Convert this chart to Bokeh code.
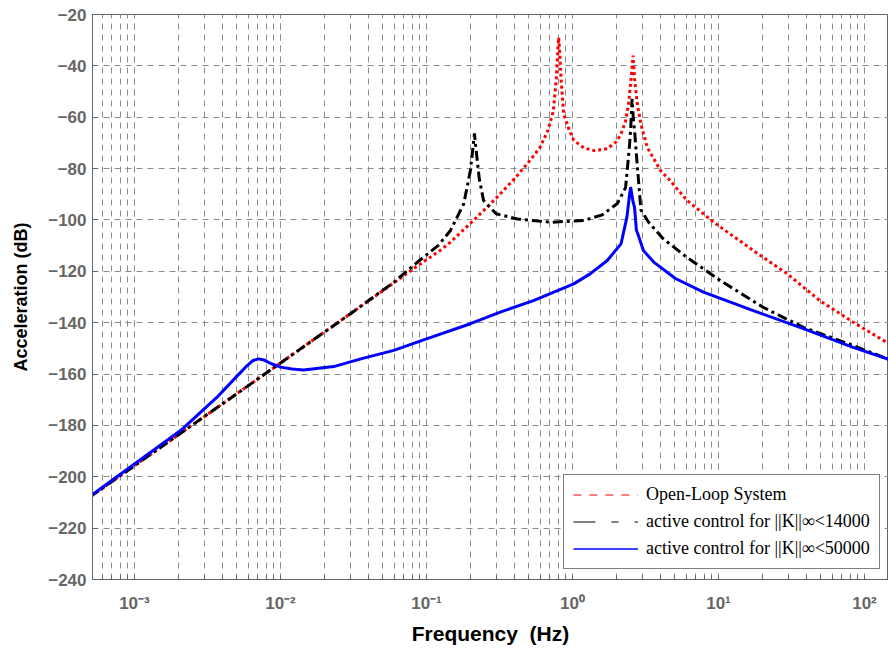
from bokeh.plotting import figure
from bokeh.models import FixedTicker, Legend, LegendItem, Range1d, CustomJSTickFormatter
from bokeh.embed import file_html
from bokeh.resources import INLINE

# ---------------- data ----------------
freq_open = [5.0e-4, 1e-3, 1e-2, 3e-2, 0.0863, 0.124, 0.146, 0.21, 0.30, 0.40, 0.50,
             0.60, 0.68, 0.74, 0.775, 0.795, 0.805, 0.815, 0.835, 0.87, 0.95, 1.02,
             1.2, 1.41, 1.73, 2.0, 2.15, 2.3, 2.42, 2.52, 2.6, 2.66, 2.78, 2.95, 3.25,
             4.0, 4.45, 6.1, 9.27, 17.3, 29.6, 49.4, 83.6, 150]
db_open = [-207.7, -195.7, -155.7, -136.6, -118.0, -111.9, -108.6, -100.2, -91.5, -84.0, -77.5,
           -71.7, -65.0, -57.4, -45.0, -33.0, -29.0, -33.0, -45.0, -58.7, -65.0, -69.0,
           -72.0, -73.0, -72.3, -69.5, -66.5, -62.0, -54.8, -45.0, -36.0, -45.0, -54.8, -63.0, -71.7,
           -80.7, -83.4, -92.4, -100.9, -111.9, -121.0, -131.4, -139.8, -148.5]

freq_k14 = [5.0e-4, 1e-3, 1e-2, 3e-2, 0.06, 0.0863, 0.12, 0.146, 0.18, 0.20, 0.208, 0.213,
            0.218, 0.23, 0.246, 0.30, 0.418, 0.71, 1.2, 1.6, 2.03, 2.31, 2.45, 2.5, 2.56,
            2.62, 2.66, 2.76, 2.94, 3.32, 4.18, 6.05, 10.3, 20.2, 38.1, 83.6, 150]
db_k14 = [-207.7, -195.7, -155.7, -136.6, -124.2, -116.5, -110.0, -104.1, -93.7, -80.7, -72.0, -66.3,
          -72.0, -84.0, -92.4, -97.6, -99.6, -100.9, -100.2, -98.0, -93.6, -87.4, -72.0, -65.2, -52.8,
          -62.0, -65.0, -76.8, -96.0, -100.9, -107.3, -114.5, -123.6, -134.0, -141.8, -148.9, -154.5]

freq_k50 = [5.0e-4, 1e-3, 2.07e-3, 3.68e-3, 5.0e-3, 5.92e-3, 6.5e-3, 7.07e-3, 7.7e-3, 8.5e-3,
            1.0e-2, 1.2e-2, 1.44e-2, 2.32e-2, 3.55e-2, 5.97e-2, 0.1, 0.2, 0.32, 0.54, 1.02, 1.32,
            1.73, 2.15, 2.36, 2.45, 2.5, 2.6, 2.66, 2.74, 2.8, 3.06, 3.6, 5.07, 7.89, 17.3, 38.1,
            83.6, 150]
db_k50 = [-207.5, -195.0, -182.0, -169.0, -161.0, -156.7, -154.7, -154.1, -154.5, -155.8,
          -157.3, -158.0, -158.4, -157.1, -154.1, -150.8, -146.3, -140.4, -135.9, -131.4, -124.9, -121.0,
          -115.8, -109.3, -98.9, -91.0, -87.2, -93.0, -95.0, -104.0, -105.4, -111.9, -116.4, -122.8,
          -128.1, -135.3, -142.3, -149.6, -154.5]

x_decades = [1e-3, 1e-2, 1e-1, 1e0, 1e1, 1e2]
x_minor = [m * 10.0 ** e for e in range(-4, 3) for m in range(1, 10)]
y_ticks = [-240, -220, -200, -180, -160, -140, -120, -100, -80, -60, -40, -20]

legend_labels = ["Open-Loop System",
                 "active control for ||K||\u221e<14000",
                 "active control for ||K||\u221e<50000"]

# ---------------- figure ----------------
GRAY = "#666666"
FONT = "Liberation Sans"

p = figure(width=888, height=653, x_axis_type="log",
           x_range=Range1d(5.16e-4, 146), y_range=Range1d(-240, -20),
           output_backend="svg", toolbar_location=None,
           min_border_left=92, min_border_right=0, min_border_top=14, min_border_bottom=74)
p.background_fill_color = "white"
p.border_fill_color = "white"
p.outline_line_color = GRAY
p.outline_line_width = 1

# x axis
p.xaxis.ticker = FixedTicker(ticks=x_decades, minor_ticks=x_minor)
p.xaxis.formatter = CustomJSTickFormatter(code="""
const e = Math.round(Math.log10(tick));
const m = {'-': '\u207B', '0': '\u2070', '1': '\u00B9', '2': '\u00B2', '3': '\u00B3',
           '4': '\u2074', '5': '\u2075', '6': '\u2076', '7': '\u2077', '8': '\u2078', '9': '\u2079'};
return '10' + String(e).split('').map(c => m[c]).join('');
""")
p.xaxis.axis_line_color = GRAY
p.xaxis.major_tick_line_color = GRAY
p.xaxis.minor_tick_line_color = GRAY
p.xaxis.major_tick_in = 4
p.xaxis.major_tick_out = 0
p.xaxis.minor_tick_in = 4
p.xaxis.minor_tick_out = 0
p.xaxis.major_label_text_font = FONT
p.xaxis.major_label_text_font_style = "bold"
p.xaxis.major_label_text_font_size = "17px"
p.xaxis.major_label_text_color = GRAY
p.xaxis.major_label_standoff = 14
p.xaxis.axis_label = "Frequency\u00a0\u00a0(Hz)"
p.xaxis.axis_label_text_font = FONT
p.xaxis.axis_label_text_font_style = "bold"
p.xaxis.axis_label_text_font_size = "21px"
p.xaxis.axis_label_text_color = "black"
p.xaxis.axis_label_standoff = 6

# y axis
p.yaxis.ticker = FixedTicker(ticks=y_ticks)
p.yaxis.axis_line_color = GRAY
p.yaxis.major_tick_line_color = GRAY
p.yaxis.major_tick_in = 5
p.yaxis.major_tick_out = 0
p.yaxis.minor_tick_line_color = None
p.yaxis.major_label_text_font = FONT
p.yaxis.major_label_text_font_style = "bold"
p.yaxis.major_label_text_font_size = "17px"
p.yaxis.major_label_text_color = GRAY
p.yaxis.major_label_standoff = 6
p.yaxis.axis_label = "Acceleration (dB)"
p.yaxis.axis_label_text_font = FONT
p.yaxis.axis_label_text_font_style = "bold"
p.yaxis.axis_label_text_font_size = "18px"
p.yaxis.axis_label_text_color = "black"
p.yaxis.axis_label_standoff = 14

# grids
p.xgrid.grid_line_color = "#8c8c8c"
p.xgrid.grid_line_dash = "6 5"
p.xgrid.grid_line_width = 1
p.xgrid.minor_grid_line_color = "#8c8c8c"
p.xgrid.minor_grid_line_dash = "6 5"
p.xgrid.minor_grid_line_width = 1
p.ygrid.grid_line_color = "#8c8c8c"
p.ygrid.grid_line_dash = "6 5"
p.ygrid.grid_line_width = 1

# curves
p.line(freq_open, db_open, line_color="red", line_width=3, line_dash="3 3")
p.line(freq_k14, db_k14, line_color="black", line_width=3, line_dash="10 4 3 4")
p.line(freq_k50, db_k50, line_color="#0000ff", line_width=3)

# legend with thin sample lines (single-point renderers draw nothing in the plot)
r1 = p.line(freq_open[:1], db_open[:1], line_color="red", line_width=1, line_dash="8 8")
r2 = p.line(freq_k14[:1], db_k14[:1], line_color="black", line_width=1, line_dash="22 16 7 16")
r3 = p.line(freq_k50[:1], db_k50[:1], line_color="#0000ff", line_width=1.5)
legend = Legend(items=[LegendItem(label=legend_labels[0], renderers=[r1]),
                       LegendItem(label=legend_labels[1], renderers=[r2]),
                       LegendItem(label=legend_labels[2], renderers=[r3])],
                location=(471, 10), margin=0)
legend.label_text_font = "Liberation Serif"
legend.label_text_font_size = "18px"
legend.label_text_color = "black"
legend.label_height = 21
legend.glyph_height = 21
legend.glyph_width = 65
legend.label_standoff = 8
legend.spacing = 6
legend.padding = 9
legend.border_line_color = "black"
legend.border_line_width = 1
legend.background_fill_color = "white"
legend.background_fill_alpha = 1
p.add_layout(legend)

open("out.html", "w").write(file_html(p, INLINE))
